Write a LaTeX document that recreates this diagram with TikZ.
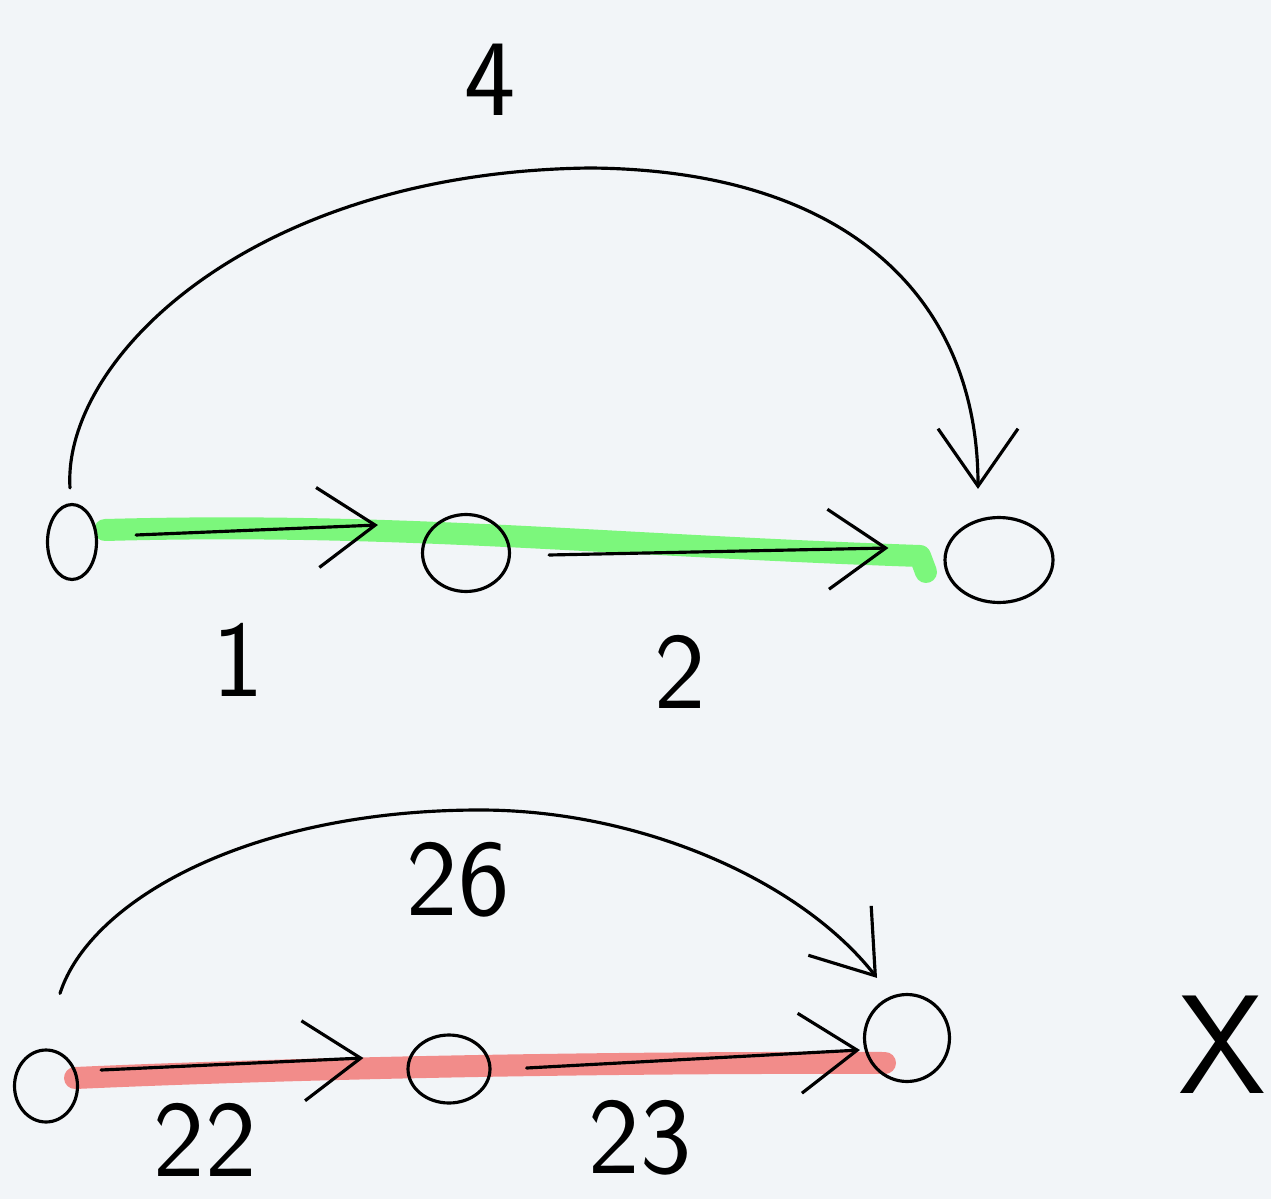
\documentclass[tikz,border=0pt]{standalone}
\usetikzlibrary{arrows.meta,shapes.geometric}
\definecolor{bgc}{RGB}{242,245,248}
\definecolor{hlgreen}{RGB}{124,247,124}
\definecolor{hlred}{RGB}{242,140,138}
\begin{document}
\begin{tikzpicture}[x=0.02cm,y=-0.02cm,
  vtx/.style={draw=black,ellipse,line width=1.8pt,inner sep=0pt},
  arr/.style={draw=black,line width=1.8pt,line cap=round,line join=round,
    -{Straight Barb[length=1.15cm,width=1.6cm,line width=1.8pt]}},
  hl/.style={line width=0.44cm,line cap=round,line join=round},
  lbl/.style={font=\sffamily\fontsize{62}{70}\selectfont,inner sep=0pt}]
\fill[bgc] (0,0) rectangle (1271,1199);
\clip (0,0) rectangle (1271,1199);
% highlights
\draw[hl,hlgreen] (105,530) .. controls (400,522) and (600,545) .. (920,556) -- (926,572);
\draw[hl,hlred] (75,1078) .. controls (300,1068) and (600,1062) .. (885,1063);
% top graph
\node[vtx,minimum width=0.98cm,minimum height=1.5cm] (a) at (72,542) {};
\node[vtx,minimum width=1.74cm,minimum height=1.54cm] (b) at (466,553) {};
\node[vtx,minimum width=2.16cm,minimum height=1.7cm] (c) at (999,560) {};
\draw[arr] ([shift={(38,-7)}]a.east) -- ([shift={(-43,-28)}]b.west);
\draw[arr] ([shift={(38,2)}]b.east) -- ([shift={(-55,-12)}]c.west);
\draw[arr] ([shift={(-2,-15)}]a.north) .. controls (62,360) and (250,172) .. (590,168)
  .. controls (850,170) and (978,300) .. ([shift={(-21,-27)}]c.north);
\node[lbl] (l4) at (490,80) {4};
\node[lbl] (l1) at (238,660) {1};
\node[lbl] (l2) at (680,672) {2};
% bottom graph
\node[vtx,minimum width=1.26cm,minimum height=1.44cm] (d) at (46,1086) {};
\node[vtx,minimum width=1.64cm,minimum height=1.36cm] (e) at (449,1069) {};
\node[vtx,minimum width=1.7cm,minimum height=1.74cm] (f) at (907,1038) {};
\draw[arr] ([shift={(22,-16)}]d.east) -- ([shift={(-43,-11)}]e.west);
\draw[arr] ([shift={(35,-1)}]e.east) -- ([shift={(-3,12)}]f.west);
\draw[arr] ([shift={(14,-55)}]d.north) .. controls (90,900) and (250,810) .. (480,810)
  .. controls (640,810) and (800,880) .. ([shift={(-30,-15)}]f.north);
\node[lbl] (l26) at (458,880) {26};
\node[lbl] (l22) at (205,1140) {22};
\node[lbl] (l23) at (640,1138) {23};
\node[lbl,font=\sffamily\fontsize{80}{90}\selectfont] (lx) at (1222,1045) {X};
\end{tikzpicture}
\end{document}
